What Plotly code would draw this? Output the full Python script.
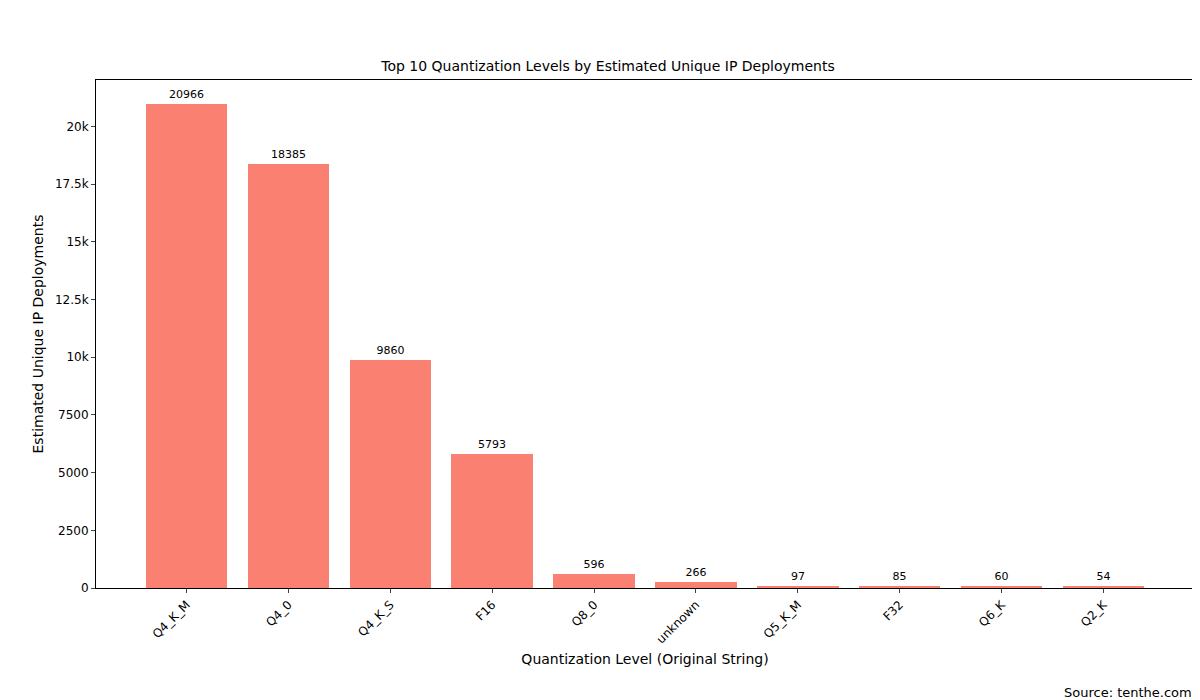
import plotly.graph_objects as go

levels = ["Q4_K_M", "Q4_0", "Q4_K_S", "F16", "Q8_0", "unknown", "Q5_K_M", "F32", "Q6_K", "Q2_K"]
deployments = [20966, 18385, 9860, 5793, 596, 266, 97, 85, 60, 54]

fig = go.Figure(go.Bar(
    x=list(range(len(levels))),
    y=deployments,
    width=0.8,
    marker=dict(color="#FA8072", line=dict(width=0)),
    text=[str(v) for v in deployments],
    textposition="outside",
    textfont=dict(size=11, color="black"),
    cliponaxis=False,
))

fig.update_layout(
    width=1200, height=700,
    margin=dict(l=88, r=14, t=72, b=120),
    paper_bgcolor="white", plot_bgcolor="white",
    font=dict(family="DejaVu Sans", size=12, color="black"),
    title=dict(text="Top 10 Quantization Levels by Estimated Unique IP Deployments",
               x=0.5, xanchor="center", y=0.917, yanchor="middle", font=dict(size=14)),
    showlegend=False,
    bargap=0,
)
fig.update_xaxes(
    range=[-0.89, 9.89], tickmode="array", tickvals=list(range(len(levels))), ticktext=levels,
    tickangle=-45, ticks="outside", ticklen=4, showline=True, linecolor="black", mirror=True,
    showgrid=False, zeroline=False,
    title=dict(text="Quantization Level (Original String)", standoff=8),
)
fig.update_yaxes(
    range=[0, 22014], tickmode="array", tickvals=list(range(0, 22000, 2500)),
    ticks="outside", ticklen=4, showline=True, linecolor="black", mirror=True,
    showgrid=False, zeroline=False,
    title=dict(text="Estimated Unique IP Deployments", standoff=8),
)
fig.add_annotation(text="Source: tenthe.com", xref="paper", yref="paper", x=1.0, y=-0.205,
                   xanchor="right", yanchor="middle", showarrow=False, font=dict(size=13))

fig.write_html("out.html")
